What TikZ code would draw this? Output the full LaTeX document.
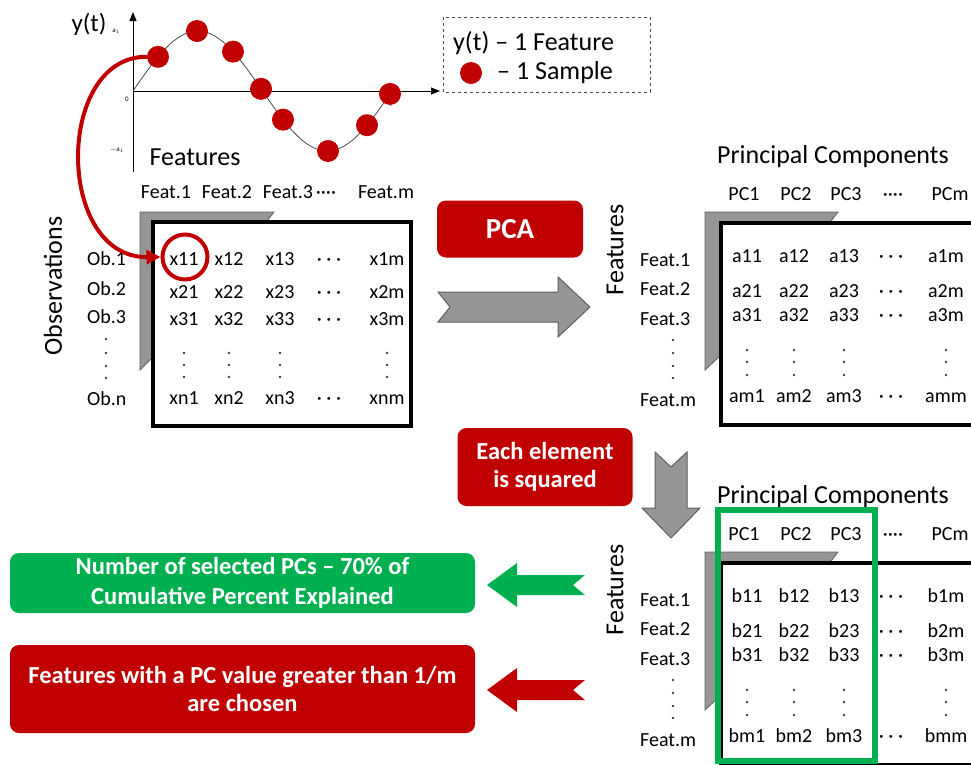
\documentclass[tikz,border=0pt]{standalone}
\usepackage{fontspec}
\setmainfont{Carlito}
\usetikzlibrary{arrows.meta}
\definecolor{dred}{RGB}{192,0,0}
\definecolor{pgreen}{RGB}{0,176,80}
\definecolor{agray}{RGB}{150,150,150}
\definecolor{agraydark}{RGB}{95,95,95}
\begin{document}
\begin{tikzpicture}[x=1pt,y=-1pt,
  cell/.style={font=\fontsize{20}{22}\selectfont, inner sep=0pt, text height=0.62em, text depth=0.02em},
  lbl/.style={cell, anchor=west},
  big/.style={font=\fontsize{26}{28}\selectfont, inner sep=0pt},
  tiny/.style={font=\fontsize{7}{8}\selectfont, inner sep=0pt},
  redbox/.style={fill=dred, rounded corners=9pt, text=white, align=center, inner sep=0pt},
  greenbox/.style={fill=pgreen, rounded corners=9pt, text=white, align=center, inner sep=0pt},
  bracket/.style={fill=agray, draw=agraydark, line width=0.8pt},
  mbox/.style={draw=black, fill=white, line width=4.5pt},
  blockarrow/.style={fill=agray, draw=agraydark, line width=1pt},
  sdot/.style={circle, fill=dred, inner sep=0pt, minimum size=22pt},
  vdot/.style={fill=black!75}
]
\useasboundingbox (0,0) rectangle (971,764);
\clip (0,0) rectangle (971,764);

% ---------------- signal plot
\draw[line width=1pt, -{Triangle[length=9pt,width=7pt]}] (133,172) -- (133,12);
\draw[line width=1pt, -{Triangle[length=9pt,width=7pt]}] (133,91) -- (440,91);
\draw[line width=0.8pt, black!70] plot[smooth, domain=0:259, samples=80] ({133+\x},{91-60*sin(\x*1.38996)});
\node[font=\fontsize{25}{27}\selectfont, inner sep=0pt] (yt) at (89,24) {y(t)};
\node[tiny] (la1) at (116,31) {a$_1$};
\node[tiny] (l0) at (127,99) {0};
\node[tiny] (lma1) at (117,150) {$-$a$_1$};
\node[tiny] (lT) at (391,104) {T};
\foreach \i/\t in {1/25,2/64,3/100,4/128,5/150,6/195,7/234,8/257}{
  \node[sdot] (d\i) at ({133+\t},{91-60*sin(\t*1.38996)}) {};
}

% legend
\draw[dashed, line width=0.8pt, black!70] (443,17) rectangle (650,92);
\node[font=\fontsize{26}{28}\selectfont, anchor=west, inner sep=0pt] (leg1) at (453,43) {y(t) – 1 Feature};
\node[sdot] (legdot) at (471,73) {};
\node[font=\fontsize{26}{28}\selectfont, anchor=west, inner sep=0pt] (leg2) at (497,73) {– 1 Sample};

\node[big] (feattop) at (195,157) {Features};

% ---------------- matrix 1
\node[big, rotate=90] (obs) at (53,286) {Observations};
\draw[bracket] (140,212) -- (274,212) -- (264,225) -- (155,225) -- (155,355) -- (140,370) -- cycle;
\draw[mbox] (153,222) rectangle (411,426);
\foreach \c/\x in {1/166,2/227,3/288}{\node[cell] (fh\c) at (\x,195) {Feat.\c};}
\node[cell] (fhd) at (326,195) {····};
\node[cell] (fhm) at (386,195) {Feat.m};
\foreach \r/\y in {1/262,2/292,3/320,n/402}{\node[lbl] (ob\r) at (87,\y) {Ob.\r};}
\foreach \y in {339,353,366,378}{\fill[vdot] (106,\y) circle (1.4pt);}
\foreach \r/\y in {1/262,2/295,3/322,n/401}{
  \foreach \c/\x in {1/184,2/229,3/280,m/387}{\node[cell] (x\r\c) at (\x,\y) {x\r\c};}
  \node[cell] (xd\r) at (329,\y) {· · ·};
}
\foreach \x in {184,229,280,387}{\foreach \y in {353,365,377}{\fill[vdot] (\x,\y) circle (1.4pt);}}
\node[circle, draw=dred, line width=4pt, minimum size=45pt, inner sep=0pt] (c11) at (185,257) {};
\draw[dred, line width=4pt, -{Triangle[length=14pt,width=14pt]}] (d1.west) .. controls (55,56) and (55,258) .. (c11.west);

% ---------------- PCA
\node[redbox, minimum width=146pt, minimum height=57pt, font=\fontsize{29}{31}\selectfont\bfseries] (pca) at (510,229) {PCA};
\draw[blockarrow] (438,292) -- (558,292) -- (558,277) -- (590,307) -- (558,337) -- (558,322) -- (438,322) -- (450,307) -- cycle;

% ---------------- matrix 2 and 3
\foreach \L/\dy/\m in {a/0/2, b/340/3}{
  \begin{scope}[yshift=-\dy pt]
  \node[big] (pctitle\m) at (833,157) {Principal Components};
  \node[big, rotate=90] (feats\m) at (615,250) {Features};
  \draw[bracket] (705,212) -- (838,212) -- (828,225) -- (721,225) -- (721,355) -- (705,370) -- cycle;
  \draw[mbox] (721,223) rectangle (1000,425);
  \foreach \c/\x in {1/744,2/796,3/846}{\node[cell] (pc\m\c) at (\x,197) {PC\c};}
  \node[cell] (pcd\m) at (893,197) {····};
  \node[cell] (pc\m m) at (950,197) {PCm};
  \foreach \r/\y in {1/263,2/292,3/322,m/403}{\node[lbl] (ft\m\r) at (640,\y) {Feat.\r};}
  \foreach \y in {340,353,366,378}{\fill[vdot] (673,\y) circle (1.4pt);}
  \foreach \r/\y in {1/259,2/294,3/318,m/399}{
    \foreach \c/\x in {1/747,2/794,3/844,m/946}{\node[cell] (\L\r\c) at (\x,\y) {\L\r\c};}
    \node[cell] (\L d\r) at (891,\y) {· · ·};
  }
  \foreach \x in {747,794,844,946}{\foreach \y in {350,362,375}{\fill[vdot] (\x,\y) circle (1.4pt);}}
  \end{scope}
}
\draw[pgreen, line width=6pt] (718,510) rectangle (875,761);

% ---------------- squared
\node[redbox, minimum width=175pt, minimum height=78pt, font=\fontsize{24.5}{28}\selectfont\bfseries] (sq) at (545,467) {Each element\\is squared};
\draw[blockarrow] (655,452) -- (671,467) -- (687,452) -- (687,508) -- (700,508) -- (671,538) -- (642,508) -- (655,508) -- cycle;

% ---------------- results
\node[greenbox, minimum width=465pt, minimum height=60pt, font=\fontsize{24.5}{30}\selectfont\bfseries] (res1) at (242.5,583) {Number of selected PCs – 70\% of\\Cumulative Percent Explained};
\node[redbox, minimum width=465pt, minimum height=88pt, font=\fontsize{24.5}{28}\selectfont\bfseries] (res2) at (242.5,689) {Features with a PC value greater than 1/m\\are chosen};
\fill[pgreen] (487,585) -- (517,563) -- (517,575) -- (585,575) -- (573,585) -- (585,595) -- (517,595) -- (517,607) -- cycle;
\fill[dred] (487,690) -- (517,668) -- (517,680) -- (585,680) -- (573,690) -- (585,700) -- (517,700) -- (517,712) -- cycle;
\end{tikzpicture}
\end{document}
